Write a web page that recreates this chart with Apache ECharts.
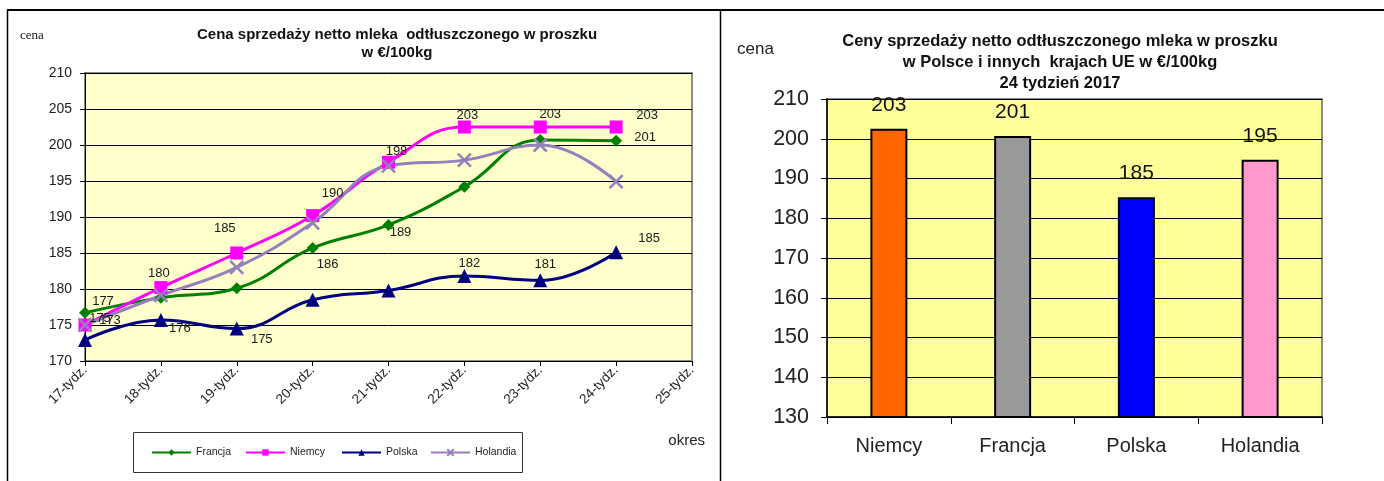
<!DOCTYPE html>
<html>
<head>
<meta charset="utf-8">
<script src="https://cdn.jsdelivr.net/npm/echarts@6/dist/echarts.min.js"></script>
<style>
html,body{margin:0;padding:0;background:#fff;}
#c{width:1384px;height:481px;}
</style>
</head>
<body>
<div id="c"></div>
<script>
// ---------- data: left chart ----------
const weeks = ['17-tydz.', '18-tydz.', '19-tydz.', '20-tydz.', '21-tydz.', '22-tydz.', '23-tydz.', '24-tydz.', '25-tydz.'];
const francja  = [176.7, 178.8, 180.1, 185.7, 188.9, 194.2, 200.7, 200.6];
const niemcy   = [175.0, 180.2, 185.0, 190.2, 197.6, 202.5, 202.5, 202.5];
const polska   = [172.9, 175.7, 174.5, 178.5, 179.8, 181.8, 181.2, 185.1];
const holandia = [175.0, 179.1, 183.0, 189.2, 197.1, 197.9, 200.0, 194.9];
const lineTicks = [170, 175, 180, 185, 190, 195, 200, 205, 210];

// ---------- data: right chart ----------
const countries = ['Niemcy', 'Francja', 'Polska', 'Holandia'];
const week24 = [202.5, 200.7, 185.3, 194.7];
const barTicks = [130, 140, 150, 160, 170, 180, 190, 200, 210];

// ---------- styling (kept separate from data) ----------
const FONT = '"Liberation Sans", Arial, sans-serif';
const lineColors = { Francja: '#008000', Niemcy: '#FF00FF', Polska: '#000080', Holandia: '#9580BD' };
const barColors = ['#FF6600', '#999999', '#0000FF', '#FF99CC'];
const symbols = {
  Francja: ['diamond', 12],
  Niemcy: ['rect', 13],
  Polska: ['triangle', 14],
  Holandia: ['path://M0,0L10,10M10,0L0,10', 13]
};
// label offsets (px) relative to point centre; null = no label
const labelOffsets = {
  Francja:  [[18,-11], null, null, [15,16], [12,8], null, null, [29,-3]],
  Niemcy:   [[15,-7], [-2,-14], [-12,-25], [20,-22], [8,-11], [3,-12], [10,-13], [31,-12]],
  Polska:   [[25,-20], [19,8], [25,11], null, null, [5,-13], [5,-16], [33,-14]],
  Holandia: [null, null, null, null, null, null, null, null]
};
const seriesDefs = [['Francja', francja], ['Niemcy', niemcy], ['Polska', polska], ['Holandia', holandia]];
const legendLeft = [151, 245, 341, 430];

function buildLine(name, values) {
  const c = lineColors[name];
  const isX = name === 'Holandia';
  return {
    name: name, type: 'line', xAxisIndex: 0, yAxisIndex: 0,
    smooth: 0.45,
    symbol: symbols[name][0], symbolSize: symbols[name][1],
    lineStyle: { color: c, width: 3 },
    itemStyle: { color: isX ? 'rgba(0,0,0,0)' : c, borderColor: c, borderWidth: isX ? 2.5 : 0 },
    emphasis: { disabled: true },
    data: values.map((v, i) => {
      const o = labelOffsets[name][i];
      return {
        value: v,
        label: o ? {
          show: true, position: 'inside', offset: o,
          formatter: p => String(Math.round(p.value)),
          color: '#1a1a1a', fontSize: 13, fontFamily: FONT
        } : { show: false }
      };
    })
  };
}

const chart = echarts.init(document.getElementById('c'), null, { renderer: 'canvas' });
chart.setOption({
  animation: false,
  backgroundColor: '#ffffff',
  title: [
    { text: 'Cena sprzedaży netto mleka  odtłuszczonego w proszku\nw €/100kg',
      left: 392, top: 21, textAlign: 'center',
      textStyle: { fontFamily: FONT, fontWeight: 'bold', fontSize: 15, lineHeight: 18, color: '#111' } },
    { text: 'Ceny sprzedaży netto odtłuszczonego mleka w proszku\nw Polsce i innych  krajach UE w €/100kg\n24 tydzień 2017',
      left: 1055, top: 26, textAlign: 'center',
      textStyle: { fontFamily: FONT, fontWeight: 'bold', fontSize: 16.5, lineHeight: 21, color: '#111' } }
  ],
  legend: seriesDefs.map((s, i) => ({
    data: [s[0]], left: legendLeft[i], top: 447, padding: 0,
    itemWidth: 39, itemHeight: 8, itemGap: 4,
    textStyle: { fontFamily: FONT, fontSize: 10.5, color: '#222' },
    selectedMode: false
  })),
  grid: [
    { left: 85, top: 73, width: 607, height: 288, show: true, backgroundColor: '#FFFFCC', borderColor: '#8c8c8c', borderWidth: 2 },
    { left: 827, top: 99, width: 495, height: 318, show: true, backgroundColor: '#FFFF99', borderColor: '#8c8c8c', borderWidth: 2 }
  ],
  xAxis: [
    { type: 'category', gridIndex: 0, data: weeks, boundaryGap: false,
      axisLine: { lineStyle: { color: '#000', width: 1 } },
      axisTick: { show: true, length: 5, lineStyle: { color: '#000' } },
      axisLabel: { rotate: 45, fontSize: 13.5, fontFamily: FONT, color: '#222', margin: 7, interval: 0 },
      splitLine: { show: false } },
    { type: 'category', gridIndex: 1, data: countries,
      axisLine: { lineStyle: { color: '#000', width: 1.5 } },
      axisTick: { show: true, length: 7, lineStyle: { color: '#000' } },
      axisLabel: { fontSize: 20, fontFamily: FONT, color: '#222', margin: 19 },
      splitLine: { show: false } }
  ],
  yAxis: [
    { type: 'value', gridIndex: 0, min: lineTicks[0], max: lineTicks[lineTicks.length - 1], interval: 5,
      axisLine: { show: true, lineStyle: { color: '#000' } },
      axisTick: { show: true, length: 5, lineStyle: { color: '#000' } },
      axisLabel: { fontSize: 14, fontFamily: FONT, color: '#222', margin: 13 },
      splitLine: { show: true, lineStyle: { color: '#000', width: 1 } } },
    { type: 'value', gridIndex: 1, min: barTicks[0], max: barTicks[barTicks.length - 1], interval: 10,
      axisLine: { show: true, lineStyle: { color: '#000', width: 1.5 } },
      axisTick: { show: true, length: 6, lineStyle: { color: '#000' } },
      axisLabel: { fontSize: 21.5, fontFamily: FONT, color: '#222', margin: 18 },
      splitLine: { show: true, lineStyle: { color: '#000', width: 1 } } }
  ],
  series: seriesDefs.map(s => buildLine(s[0], s[1])).concat([
    { name: 'tydz24', type: 'bar', xAxisIndex: 1, yAxisIndex: 1, barWidth: 37,
      emphasis: { disabled: true },
      data: week24.map((v, i) => ({ value: v, itemStyle: { color: barColors[i] } })),
      itemStyle: { borderColor: '#000', borderWidth: 2 },
      label: { show: true, position: 'top', distance: 13, fontSize: 21, fontFamily: FONT, color: '#111',
               formatter: p => String(Math.round(p.value)) } }
  ]),
  graphic: [
    { type: 'line', shape: { x1: 7, y1: 10, x2: 1384, y2: 10 }, style: { stroke: '#000', lineWidth: 2 } },
    { type: 'line', shape: { x1: 7.5, y1: 10, x2: 7.5, y2: 481 }, style: { stroke: '#000', lineWidth: 1.5 } },
    { type: 'line', shape: { x1: 720.5, y1: 10, x2: 720.5, y2: 481 }, style: { stroke: '#000', lineWidth: 1.5 } },
    { type: 'text', left: 20, top: 29, style: { text: 'cena', font: '13px "Liberation Serif", "Times New Roman", serif', fill: '#222' } },
    { type: 'text', left: 737, top: 41, style: { text: 'cena', font: '17px "Liberation Sans", Arial, sans-serif', fill: '#222' } },
    { type: 'text', right: 1384 - 705, top: 433, style: { text: 'okres', font: '15px "Liberation Sans", Arial, sans-serif', fill: '#222' } },
    { type: 'rect', shape: { x: 133.5, y: 432.5, width: 389, height: 40 }, style: { fill: 'none', stroke: '#333', lineWidth: 1 }, z: -1 }
  ]
});
</script>
</body>
</html>
